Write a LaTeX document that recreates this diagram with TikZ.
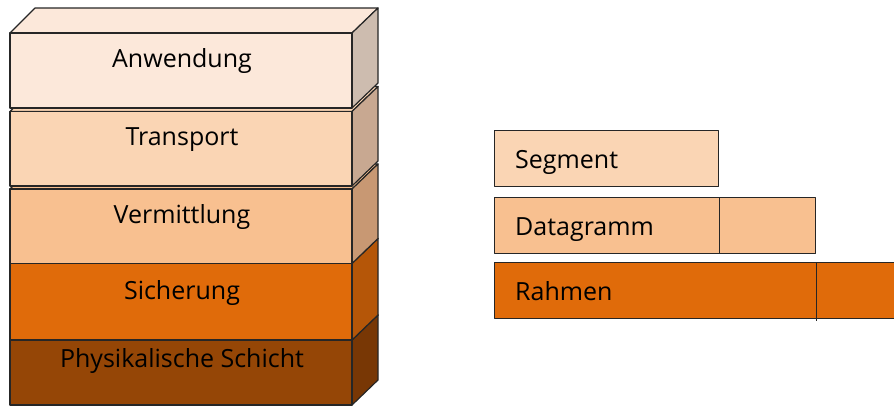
\documentclass[tikz,border=0pt]{standalone}
\usepackage{fontspec}
\setmainfont{Open Sans}
\usetikzlibrary{positioning}

% layer colours (front / side)
\definecolor{anwF}{HTML}{FCE8DA}
\definecolor{anwS}{HTML}{CDBCAF}
\definecolor{trpF}{HTML}{FAD5B4}
\definecolor{trpS}{HTML}{C8A891}
\definecolor{vmtF}{HTML}{F8C090}
\definecolor{vmtS}{HTML}{C89873}
\definecolor{sicF}{HTML}{E06B0A}
\definecolor{sicS}{HTML}{B55608}
\definecolor{phyF}{HTML}{954606}
\definecolor{phyS}{HTML}{783705}

\tikzset{
  face/.style={draw=black!85,line width=1.2pt,line join=round},
  layertext/.style={anchor=base,inner sep=0pt,font=\fontsize{25}{28}\selectfont},
  pdu/.style={face,anchor=north west,minimum height=56pt,inner sep=0pt},
  pdutext/.style={anchor=base west,inner sep=0pt,font=\fontsize{25}{28}\selectfont}
}

\begin{document}
\begin{tikzpicture}[x=1pt,y=-1pt]
    \useasboundingbox (0,0) rectangle (894,405);

    %%%% Stack =====================================
    % Layers, bottom one first
    \foreach \ya/\yb/\fc/\sc in {340/405/phyF/phyS, 263.5/340/sicF/sicS,
                                 189/263.5/vmtF/vmtS, 111.5/186/trpF/trpS, 33/108/anwF/anwS}{
        \filldraw[face,fill=\fc] (10,\ya) -- (35,\ya-25) -- (378,\ya-25) -- (352,\ya) -- cycle;
        \filldraw[face,fill=\sc] (352,\ya) -- (378,\ya-25) -- (378,\yb-25) -- (352,\yb) -- cycle;
        \filldraw[face,fill=\fc] (10,\ya) rectangle (352,\yb);
    }

    % Layer names
    \node[layertext] (anw) at (182,67) {Anwendung};
    \node[layertext] (trp) at (182,145) {Transport};
    \node[layertext] (vmt) at (182,223) {Vermittlung};
    \node[layertext] (sic) at (182,299) {Sicherung};
    \node[layertext] (phy) at (182,367) {Physikalische Schicht};

    %%%% Data units ================================
    \node[pdu,fill=trpF,minimum width=224pt] (seg) at (494,130) {};
    \node[pdu,fill=vmtF,minimum width=321pt] (dg) at (494,197) {};
    \node[pdu,fill=sicF,minimum width=460pt] (rah) at (494,262) {};

    % Headers
    \draw[face] (seg.north east |- dg.north) -- (seg.north east |- dg.south);
    \draw[face] (dg.north east |- rah.north) -- ([yshift=-2pt]dg.north east |- rah.south);

    % Names
    \node[pdutext] (segT) at (515,168) {Segment};
    \node[pdutext] (dgT) at (515,235) {Datagramm};
    \node[pdutext] (rahT) at (515,300) {Rahmen};
\end{tikzpicture}
\end{document}
